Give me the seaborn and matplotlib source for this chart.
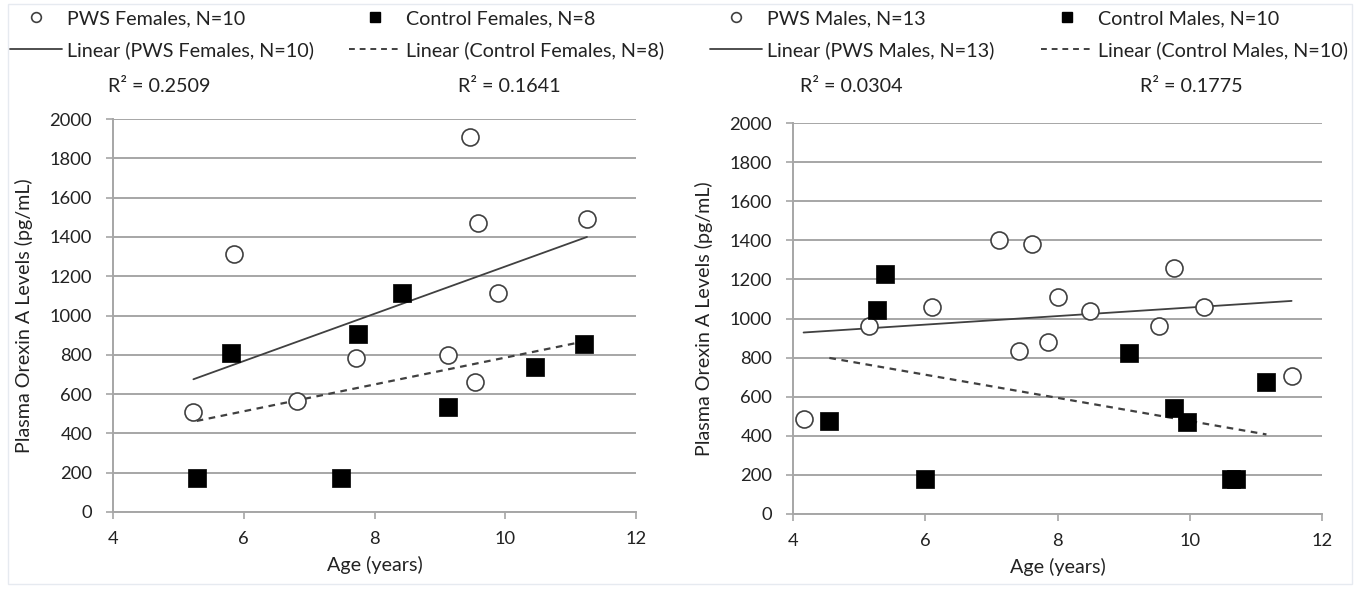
import numpy as np
import pandas as pd
import seaborn as sns
import matplotlib.pyplot as plt
from matplotlib.lines import Line2D
from matplotlib.patches import Rectangle

# values
pws_f_age = [5.23, 5.85, 6.82, 7.71, 9.13, 9.46, 9.54, 9.58, 9.89, 11.25]
pws_f_orx = [511, 1314, 567, 783, 799, 1908, 663, 1473, 1116, 1490]
ctl_f_age = [5.28, 5.81, 7.48, 7.74, 8.42, 9.13, 10.46, 11.20]
ctl_f_orx = [171, 808, 171, 907, 1116, 535, 736, 853]

pws_m_age = [4.16, 5.15, 6.10, 7.12, 7.42, 7.61, 7.86, 8.00, 8.49, 9.54, 9.76, 10.22, 11.54]
pws_m_orx = [485, 963, 1058, 1403, 836, 1379, 879, 1108, 1036, 964, 1259, 1061, 708]
ctl_m_age = [4.55, 5.27, 5.39, 6.00, 9.08, 9.76, 9.96, 10.62, 10.70, 11.16]
ctl_m_orx = [478, 1044, 1229, 177, 821, 544, 469, 177, 177, 677]

r2_labels = [["R\u00b2 = 0.2509", "R\u00b2 = 0.1641"], ["R\u00b2 = 0.0304", "R\u00b2 = 0.1775"]]
groups = [
    ("PWS Females, N=10", "Control Females, N=8", pws_f_age, pws_f_orx, ctl_f_age, ctl_f_orx),
    ("PWS Males, N=13", "Control Males, N=10", pws_m_age, pws_m_orx, ctl_m_age, ctl_m_orx),
]

sns.set_theme(style="white")
plt.rcParams['font.family'] = ['Lato', 'DejaVu Sans']

W, H = 1369, 589
fig = plt.figure(figsize=(W / 100, H / 100), dpi=100)
fig.patches.append(Rectangle((8 / W, 1 - 584 / H), 1344 / W, 580 / H, transform=fig.transFigure,
                             fill=False, edgecolor='#e6eaf0', lw=1))

grid_c = '#a6a6a6'
line_c = '#404040'
txt_c = '#222222'
fs = 14.2
axes_px = [(113, 119, 636, 512), (793, 123, 1322, 514)]
legend_cols = [(10, 349), (710, 1041)]
r2_x = [(108, 458), (800, 1140)]

for i, (pws_lab, ctl_lab, pa, po, ca, co) in enumerate(groups):
    x0, y0, x1, y1 = axes_px[i]
    ax = fig.add_axes([x0 / W, 1 - y1 / H, (x1 - x0) / W, (y1 - y0) / H])
    pws = pd.DataFrame({"age": pa, "orx": po})
    ctl = pd.DataFrame({"age": ca, "orx": co})

    sns.regplot(data=pws, x="age", y="orx", ax=ax, scatter=False, ci=None, truncate=True,
                line_kws=dict(color=line_c, lw=1.3))
    sns.regplot(data=ctl, x="age", y="orx", ax=ax, scatter=False, ci=None, truncate=True,
                line_kws=dict(color=line_c, lw=1.6, ls=(0, (3, 2.5))))
    sns.scatterplot(data=pws, x="age", y="orx", ax=ax, marker='o', s=150,
                    facecolor='white', edgecolor=line_c, linewidth=1.2, zorder=4)
    sns.scatterplot(data=ctl, x="age", y="orx", ax=ax, marker='s', s=150,
                    color='black', edgecolor='black', linewidth=0.5, zorder=4)

    ax.set_xlim(4, 12)
    ax.set_ylim(0, 2000)
    ax.set_xticks(range(4, 13, 2))
    ax.set_yticks(range(0, 2001, 200))
    ax.yaxis.grid(True, color=grid_c, lw=1.4)
    ax.set_axisbelow(True)
    for s in ['top', 'right']:
        ax.spines[s].set_visible(False)
    for s in ['left', 'bottom']:
        ax.spines[s].set_color(grid_c)
        ax.spines[s].set_linewidth(1.4)
    ax.tick_params(axis='both', which='major', length=5, width=1.2, color=grid_c,
                   labelsize=13.2, labelcolor=txt_c)
    ax.tick_params(axis='x', direction='out', bottom=True, pad=9)
    ax.tick_params(axis='y', direction='out', left=True, pad=10)
    ax.set_xlabel("Age (years)", fontsize=fs, color=txt_c, labelpad=6)
    ax.set_ylabel("Plasma Orexin A Levels (pg/mL)", fontsize=fs, color=txt_c, labelpad=12)

    col_handles = [
        [Line2D([], [], ls='none', marker='o', ms=7, mfc='white', mec=line_c, mew=1.2),
         Line2D([], [], color=line_c, lw=1.3)],
        [Line2D([], [], ls='none', marker='s', ms=7, mfc='black', mec='black'),
         Line2D([], [], color=line_c, lw=1.4, ls=(0, (3, 2.5)))],
    ]
    col_labels = [[pws_lab, "Linear (%s)" % pws_lab], [ctl_lab, "Linear (%s)" % ctl_lab]]
    for k in range(2):
        fig.legend(col_handles[k], col_labels[k], loc='upper left', frameon=False,
                   bbox_to_anchor=(legend_cols[i][k] / W, 1 - 10 / H), fontsize=fs,
                   handlelength=2.65, handletextpad=0.25, labelspacing=0.72,
                   borderpad=0, borderaxespad=0, labelcolor=txt_c)
    for j, lab in enumerate(r2_labels[i]):
        fig.text(r2_x[i][j] / W, 1 - 86 / H, lab, fontsize=fs, color=txt_c,
                 va='center', ha='left')

fig.savefig("out.png", dpi=100)
